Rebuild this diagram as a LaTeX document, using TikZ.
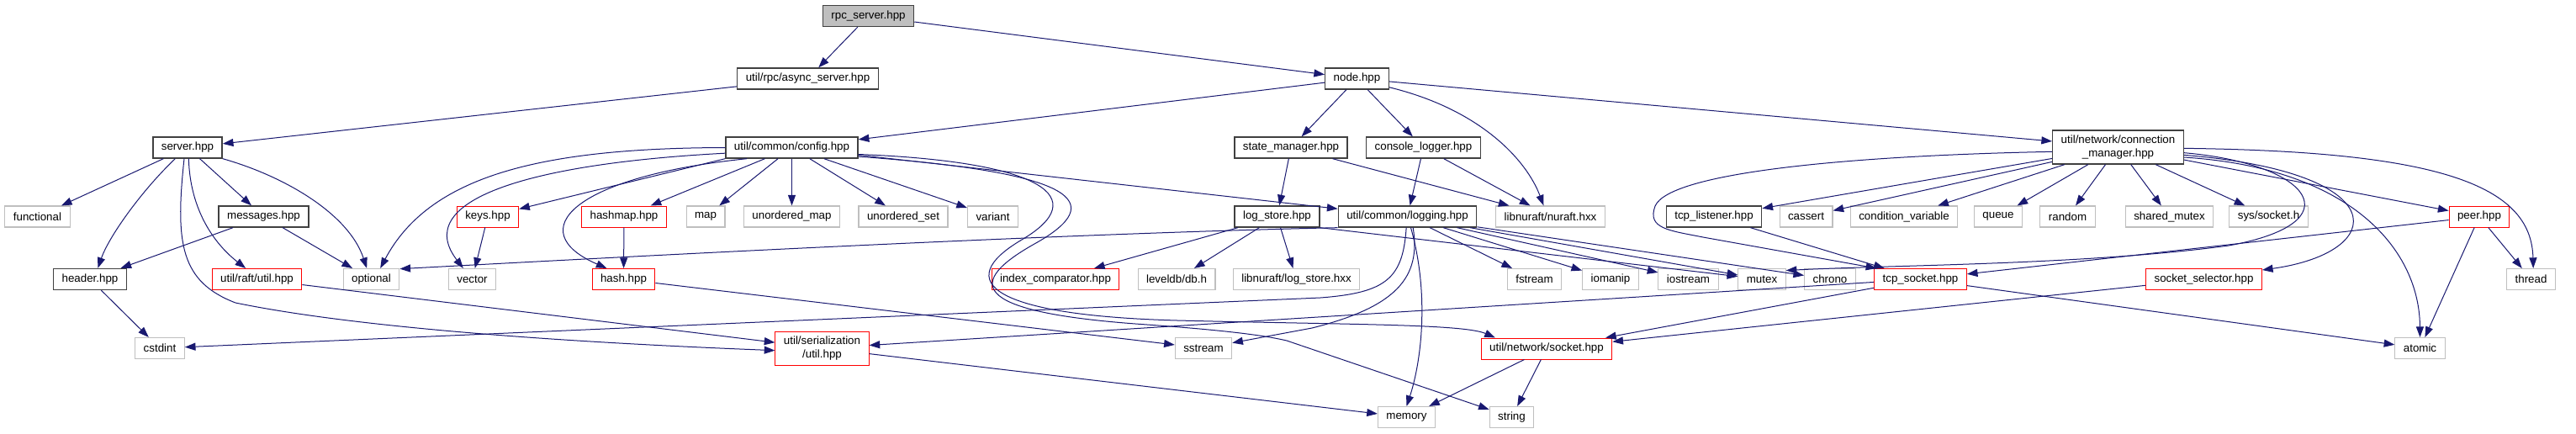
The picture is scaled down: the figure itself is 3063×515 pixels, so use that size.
\documentclass[tikz,border=0pt]{standalone}
\usepackage{fontspec}
\setmainfont{Liberation Sans}
\usepackage{tikz}
\usetikzlibrary{arrows.meta}

\definecolor{edgeblue}{HTML}{191970}
\definecolor{boxgrey}{HTML}{BFBFBF}
\definecolor{boxdark}{HTML}{404040}

\begin{document}
\begin{tikzpicture} [x = 0.75pt, y = -0.75pt,
    every node/.style = {font = \fontsize{10pt}{12pt}\selectfont, rectangle, fill = white,
      inner xsep = 7.5pt, inner ysep = 2pt, minimum height = 18.75pt, align = center},
    hfile/.style = {draw = boxdark, line width = 1pt},
    rootfile/.style = {hfile, fill = boxgrey},
    sysfile/.style = {draw = boxgrey, line width = 0.8pt},
    redfile/.style = {draw = red, line width = 0.75pt},
    twoline/.style = {minimum height = 30pt, inner ysep = 1pt},
    dep/.style = {draw = edgeblue, line width = 0.75pt, -{Triangle[length = 9.5pt, width = 6.8pt]}}]
  \useasboundingbox (0,0) rectangle (3063,515);

  % files, one row after the other
  \node [rootfile] (rpcsrv) at (1032.5,19) {rpc\_server.hpp};

  \node [hfile] (asyncsrv) at (960.5,93.5) {util/rpc/async\_server.hpp};
  \node [hfile] (nodehpp) at (1613.5,93.5) {node.hpp};

  \node [hfile] (server) at (223,175.5) {server.hpp};
  \node [hfile] (config) at (941.5,175.5) {util/common/config.hpp};
  \node [hfile] (statemgr) at (1535,175.5) {state\_manager.hpp};
  \node [hfile] (conslog) at (1692.5,175.5) {console\_logger.hpp};
  \node [hfile, twoline] (connmgr) at (2518.5,175) {util/network/connection\\\_manager.hpp};

  \node [sysfile] (functional) at (44.5,257.5) {functional};
  \node [hfile] (messages) at (313.5,257.5) {messages.hpp};
  \node [redfile] (keys) at (580,257.5) {keys.hpp};
  \node [redfile] (hashmap) at (742,257.5) {hashmap.hpp};
  \node [sysfile] (map) at (839,257.5) {map};
  \node [sysfile] (umap) at (941.5,257.5) {unordered\_map};
  \node [sysfile] (uset) at (1074,257.5) {unordered\_set};
  \node [sysfile] (variant) at (1180.5,257.5) {variant};
  \node [hfile] (logstore) at (1518.5,257.5) {log\_store.hpp};
  \node [hfile] (logging) at (1673.5,257.5) {util/common/logging.hpp};
  \node [sysfile] (nuraft) at (1843.5,257.5) {libnuraft/nuraft.hxx};
  \node [hfile] (tcplisten) at (2038,257.5) {tcp\_listener.hpp};
  \node [sysfile] (cassert) at (2147.5,257.5) {cassert};
  \node [sysfile] (condvar) at (2264,257.5) {condition\_variable};
  \node [sysfile] (queue) at (2376,257.5) {queue};
  \node [sysfile] (random) at (2458.5,257.5) {random};
  \node [sysfile] (shmutex) at (2579.5,257.5) {shared\_mutex};
  \node [sysfile] (syssock) at (2697.5,257.5) {sys/socket.h};
  \node [redfile] (peer) at (2948,257.5) {peer.hpp};

  \node [hfile] (header) at (107,332) {header.hpp};
  \node [redfile] (raftutil) at (305.5,332) {util/raft/util.hpp};
  \node [sysfile] (optional) at (441.5,332) {optional};
  \node [sysfile] (vector) at (561.5,332) {vector};
  \node [redfile] (hash) at (741.5,332) {hash.hpp};
  \node [redfile] (idxcmp) at (1255,332) {index\_comparator.hpp};
  \node [sysfile] (leveldb) at (1399,332) {leveldb/db.h};
  \node [sysfile] (logstorehxx) at (1541.5,332) {libnuraft/log\_store.hxx};
  \node [sysfile] (fstream) at (1824.5,332) {fstream};
  \node [sysfile] (iomanip) at (1915,332) {iomanip};
  \node [sysfile] (iostream) at (2007.5,332) {iostream};
  \node [sysfile] (mutex) at (2095,332) {mutex};
  \node [sysfile] (chrono) at (2176,332) {chrono};
  \node [redfile] (tcpsock) at (2283.5,332) {tcp\_socket.hpp};
  \node [redfile] (sockselect) at (2620.5,332) {socket\_selector.hpp};
  \node [sysfile] (thread) at (3009.5,332) {thread};

  \node [sysfile] (cstdint) at (190,414) {cstdint};
  \node [redfile, twoline] (serial) at (977.5,414) {util/serialization\\/util.hpp};
  \node [sysfile] (sstream) at (1431,414) {sstream};
  \node [redfile] (socket) at (1839,414.5) {util/network/socket.hpp};
  \node [sysfile] (atomic) at (2877.5,414) {atomic};

  \node [sysfile] (memory) at (1672.5,496) {memory};
  \node [sysfile] (string) at (1797.5,496) {string};

  % includes
  \draw [dep] (rpcsrv) -- (asyncsrv);
  \draw [dep] (rpcsrv) -- (nodehpp);
  \draw [dep] (asyncsrv) -- (server);
  \draw [dep] (nodehpp) -- (config);
  \draw [dep] (nodehpp) -- (statemgr);
  \draw [dep] (nodehpp) -- (conslog);
  \draw [dep] (nodehpp.-15) .. controls (1760,130) and (1815,190) .. ([xshift=-6pt]nuraft.north);
  \draw [dep] (nodehpp) -- (connmgr);

  \draw [dep] (server) -- (functional);
  \draw [dep] ([xshift=-11pt]server.south) .. controls (170,225) and (130,280) .. ([xshift=7pt]header.north);
  \draw [dep] ([xshift=1pt]server.south) .. controls (226,250) and (255,290) .. ([xshift=-10pt]raftutil.north);
  \draw [dep] (server) -- (messages);
  \draw [dep] (server.south east) .. controls (340,210) and (415,255) .. ([xshift=-4pt]optional.north);
  \draw [dep] ([xshift=-3pt]server.south) .. controls (208,290) and (215,335) .. (280,360)
    .. controls (450,395) and (750,410) .. ([yshift=-2pt]serial.west);
  \draw [dep] (messages) -- (header);
  \draw [dep] (messages) -- (optional);
  \draw [dep] (header) -- (cstdint);
  \draw [dep] (raftutil) -- (serial);

  \draw [dep] (config.west) .. controls (640,176) and (510,210) .. ([xshift=8pt]optional.north);
  \draw [dep] ([yshift=-5pt]config.west) .. controls (620,195) and (490,240) .. ([xshift=-8pt]vector.north);
  \draw [dep] (config.south west) -- (keys);
  \draw [dep] ([xshift=-40pt]config.south) .. controls (680,210) and (620,275) .. ([xshift=-15pt]hash.north);
  \draw [dep] (config) -- (hashmap);
  \draw [dep] (config) -- (map);
  \draw [dep] (config) -- (umap);
  \draw [dep] (config) -- (uset);
  \draw [dep] (config) -- (variant);
  \draw [dep] (config) -- (logging);
  \draw [dep] ([yshift=-6pt]config.east) .. controls (1240,192) and (1300,235) .. (1215,285)
    .. controls (1130,335) and (1180,375) .. (1400,381) .. controls (1600,386) and (1740,385) .. (socket.168);
  \draw [dep] ([yshift=-8pt]config.east) .. controls (1280,205) and (1320,240) .. (1230,290)
    .. controls (1150,335) and (1150,370) .. (1350,385) .. controls (1450,392) and (1500,398) .. (1530,405) -- (string);

  \draw [dep] ([xshift=-1pt]logging.south) .. controls (1668,330) and (1650,348) .. (1570,354) -- (cstdint);
  \draw [dep] ([xshift=5pt]logging.south) .. controls (1690,330) and (1660,365) .. (1560,390) -- (sstream);
  \draw [dep] ([xshift=3pt]logging.south) .. controls (1700,350) and (1690,430) .. (memory.north);
  \draw [dep] (logging) -- (fstream);
  \draw [dep] (logging) -- (iomanip);
  \draw [dep] (logging) -- (iostream);
  \draw [dep] (logging.south west) .. controls (1250,278) and (750,305) .. (optional.20);
  \draw [dep] (logging) -- (mutex);
  \draw [dep] (logging) -- (chrono);

  \draw [dep] (statemgr) -- (logstore);
  \draw [dep] (statemgr) -- (nuraft);
  \draw [dep] (conslog) -- (logging);
  \draw [dep] (conslog) -- (nuraft);
  \draw [dep] (logstore) -- (idxcmp);
  \draw [dep] (logstore) -- (leveldb);
  \draw [dep] (logstore) -- (logstorehxx);
  \draw [dep] (logstore.south east) -- (mutex);

  \draw [dep] (keys) -- (vector);
  \draw [dep] (hashmap) -- (hash);
  \draw [dep] (hash) -- (sstream);
  \draw [dep] (serial) -- (memory);
  \draw [dep] (socket) -- (memory);
  \draw [dep] (socket) -- (string);

  \draw [dep] (tcpsock) -- (socket);
  \draw [dep] (tcpsock) -- (serial);
  \draw [dep] (tcpsock) -- (atomic);
  \draw [dep] (sockselect) -- (socket);
  \draw [dep] (tcplisten) -- (tcpsock);
  \draw [dep] (peer) -- (tcpsock);
  \draw [dep] (peer) -- (atomic);
  \draw [dep] (peer) -- (thread);

  \draw [dep] (connmgr) -- (tcplisten);
  \draw [dep] (connmgr) -- (cassert);
  \draw [dep] (connmgr) -- (condvar);
  \draw [dep] (connmgr) -- (queue);
  \draw [dep] (connmgr) -- (random);
  \draw [dep] (connmgr) -- (shmutex);
  \draw [dep] (connmgr) -- (syssock);
  \draw [dep] (connmgr) -- (peer);
  \draw [dep] ([yshift=-1pt]connmgr.east) .. controls (2900,180) and (3010,220) .. ([xshift=2pt]thread.north);
  \draw [dep] ([yshift=-9pt]connmgr.east) .. controls (2800,200) and (2877,300) .. (atomic.north);
  \draw [dep] ([yshift=-7pt]connmgr.east) .. controls (2850,205) and (2840,300) .. (sockselect.9);
  \draw [dep] ([yshift=-5pt]connmgr.east) .. controls (2750,195) and (2800,265) .. (2650,292)
    .. controls (2480,315) and (2250,315) .. (mutex.20);
  \draw [dep] ([yshift=-4pt]connmgr.west) .. controls (2200,185) and (1985,205) .. (1968,245)
    .. controls (1958,272) and (1985,274) .. (2025,282) -- (tcpsock.166);
\end{tikzpicture}
\end{document}
